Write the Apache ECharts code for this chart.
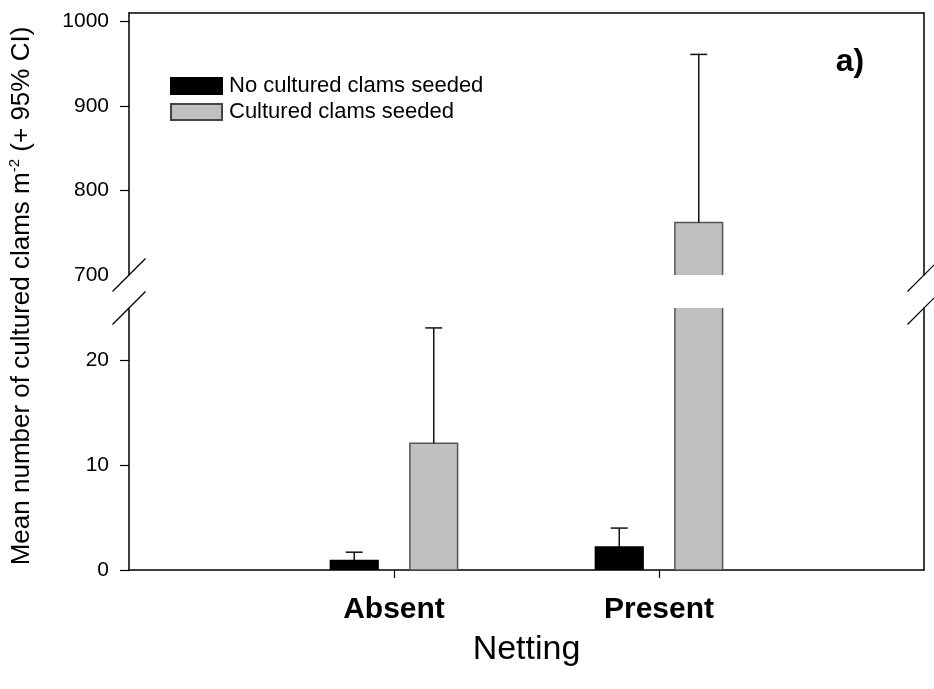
<!DOCTYPE html>
<html>
<head>
<meta charset="utf-8">
<script src="https://cdn.jsdelivr.net/npm/echarts@6/dist/echarts.min.js"></script>
<style>
  html, body { margin: 0; padding: 0; background: #fff; }
  #chart { width: 934px; height: 689px; }
</style>
</head>
<body>
<div id="chart"></div>
<script>
// data
var categories = ['Absent', 'Present'];
var catPos = [1, 2];
var noCultured = [0.9, 2.2];
var noCulturedCI = [1.7, 4.0];
var cultured = [12.1, 762];
var culturedCI = [23.1, 961];
var upperTicks = [700, 800, 900, 1000];
var lowerTicks = [0, 10, 20];

var FONT = 'Liberation Sans, Arial, sans-serif';
var gridLeft = 129, gridRight = 10;
var upperTop = 13, upperH = 262;
var lowerTop = 308, lowerH = 262;

var chart = echarts.init(document.getElementById('chart'));

function rows(means, cis, off) {
  return catPos.map(function (p, i) { return [p + off, means[i], cis[i]]; });
}

function barRender(fill, stroke) {
  return function (params, api) {
    var x = api.value(0), v = api.value(1), ci = api.value(2);
    var halfW = 0.09;
    var p0 = api.coord([x - halfW, 0]);
    var p1 = api.coord([x + halfW, v]);
    var pc = api.coord([x, ci]);
    var pt = api.coord([x, v]);
    var cap = 8.5;
    return {
      type: 'group',
      children: [
        { type: 'rect', shape: { x: p0[0], y: p1[1], width: p1[0] - p0[0], height: p0[1] - p1[1] },
          style: { fill: fill, stroke: stroke, lineWidth: 1.5 } },
        { type: 'line', shape: { x1: pt[0], y1: pt[1], x2: pc[0], y2: pc[1] },
          style: { stroke: '#111', lineWidth: 1.5 } },
        { type: 'line', shape: { x1: pc[0] - cap, y1: pc[1], x2: pc[0] + cap, y2: pc[1] },
          style: { stroke: '#111', lineWidth: 1.5 } }
      ]
    };
  };
}

function seriesFor(gridIdx) {
  var yIdx = gridIdx === 0 ? 0 : 2;
  return [
    { name: 'No cultured clams seeded', type: 'custom', xAxisIndex: gridIdx, yAxisIndex: yIdx,
      clip: true, renderItem: barRender('#000', '#000'),
      itemStyle: { color: '#000', borderColor: '#000', borderWidth: 1 },
      data: rows(noCultured, noCulturedCI, -0.15) },
    { name: 'Cultured clams seeded', type: 'custom', xAxisIndex: gridIdx, yAxisIndex: yIdx,
      clip: true, renderItem: barRender('#c0c0c0', '#555'),
      itemStyle: { color: '#c0c0c0', borderColor: '#444', borderWidth: 1.5 },
      data: rows(cultured, culturedCI, 0.15) }
  ];
}

var axisLine = { show: true, lineStyle: { color: '#000', width: 1.5 } };

function plainY(gridIdx, min, max) {
  return { type: 'value', gridIndex: gridIdx, position: 'right', min: min, max: max,
    axisLine: axisLine, axisTick: { show: false }, axisLabel: { show: false }, splitLine: { show: false } };
}

// break marks, placed from the grid layout
var breakY1 = upperTop + upperH, breakY2 = lowerTop;
var slashes = [];
[gridLeft, 934 - gridRight].forEach(function (cx) {
  [breakY1, breakY2].forEach(function (cy) {
    slashes.push({ type: 'line', shape: { x1: cx - 16.5, y1: cy + 16.5, x2: cx + 16.5, y2: cy - 16.5 },
      style: { stroke: '#000', lineWidth: 1.2 }, z: 10 });
  });
});

chart.setOption({
  animation: false,
  textStyle: { fontFamily: FONT },
  grid: [
    { left: gridLeft, right: gridRight, top: upperTop, height: upperH },
    { left: gridLeft, right: gridRight, top: lowerTop, height: lowerH }
  ],
  legend: {
    orient: 'vertical', left: 165, top: 70, itemWidth: 51, itemHeight: 16, itemGap: 4,
    icon: 'rect', selectedMode: false,
    textStyle: { fontSize: 22, color: '#000', fontFamily: FONT, padding: [0, 0, 0, 2] },
    data: ['No cultured clams seeded', 'Cultured clams seeded']
  },
  xAxis: [
    { type: 'value', gridIndex: 0, min: 0, max: 3, position: 'top',
      axisLine: axisLine, axisTick: { show: false }, axisLabel: { show: false }, splitLine: { show: false } },
    { type: 'value', gridIndex: 1, min: 0, max: 3, position: 'bottom',
      axisLine: axisLine,
      axisTick: { show: true, customValues: catPos, length: 8, lineStyle: { color: '#000', width: 1.2 } },
      axisLabel: { customValues: catPos, margin: 25, fontSize: 30, fontWeight: 'bold', color: '#000',
        formatter: function (v) { return categories[catPos.indexOf(v)]; } },
      splitLine: { show: false },
      name: 'Netting', nameLocation: 'middle', nameGap: 63,
      nameTextStyle: { fontSize: 34, color: '#000' } }
  ],
  yAxis: [
    { type: 'value', gridIndex: 0, min: 700, max: 1010,
      axisLine: axisLine,
      axisTick: { show: true, customValues: [800, 900, 1000], length: 9, lineStyle: { color: '#000', width: 1.2 } },
      axisLabel: { customValues: upperTicks, margin: 20, fontSize: 21, color: '#000',
        formatter: function (v) { return String(v); } },
      splitLine: { show: false } },
    plainY(0, 700, 1010),
    { type: 'value', gridIndex: 1, min: 0, max: 25,
      axisLine: axisLine,
      axisTick: { show: true, customValues: lowerTicks, length: 9, lineStyle: { color: '#000', width: 1.2 } },
      axisLabel: { customValues: lowerTicks, margin: 20, fontSize: 21, color: '#000',
        formatter: function (v) { return String(v); } },
      splitLine: { show: false } },
    plainY(1, 0, 25)
  ],
  graphic: slashes.concat([
    { type: 'text', x: 22, y: 296, rotation: Math.PI / 2,
      style: {
        text: '{t|Mean number of cultured clams m}{s|-2}{t| (+ 95% CI)}',
        align: 'center', verticalAlign: 'middle',
        rich: {
          t: { fontSize: 26, fontFamily: FONT, fill: '#000', lineHeight: 30 },
          s: { fontSize: 15, fontFamily: FONT, fill: '#000', verticalAlign: 'top', lineHeight: 30 }
        }
      } },
    { type: 'text', x: 850, y: 62,
      style: { text: 'a)', fontSize: 32, fontWeight: 'bold', fontFamily: FONT, fill: '#000',
        align: 'center', verticalAlign: 'middle' } }
  ]),
  series: seriesFor(0).concat(seriesFor(1))
});
</script>
</body>
</html>
